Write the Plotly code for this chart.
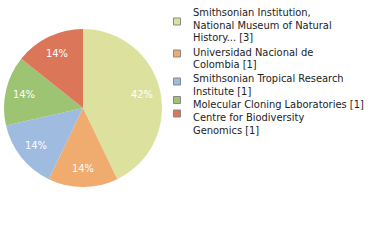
import numpy as np
import plotly.graph_objects as go

labels = [
    "Smithsonian Institution,<br>National Museum of Natural<br>History... [3]",
    "Universidad Nacional de<br>Colombia [1]",
    "Smithsonian Tropical Research<br>Institute [1]",
    "Molecular Cloning Laboratories [1]",
    "Centre for Biodiversity<br>Genomics [1]",
]
values = [3, 1, 1, 1, 1]
pct_labels = ["42%", "14%", "14%", "14%", "14%"]
colors = ["#dce29d", "#f0ab6e", "#9fbce0", "#9dc472", "#dc7659"]

W, H = 380, 240
CX, CY, R = 83, 108, 79
FONT = "DejaVu Sans Condensed"

fig = go.Figure()
fig.add_trace(go.Pie(
    labels=labels, values=values, textinfo="none",
    sort=False, direction="clockwise", rotation=0,
    marker=dict(colors=colors, line=dict(width=0)),
    domain=dict(x=[(CX - R) / W, (CX + R) / W], y=[1 - (CY + R) / H, 1 - (CY - R) / H]),
    hoverinfo="none", showlegend=False,
))

# percentage labels placed at the slice mid-angles
vals = np.array(values, dtype=float)
ends = np.cumsum(vals) / vals.sum() * 2 * np.pi
mids = ends - vals / vals.sum() * np.pi
for txt, a in zip(pct_labels, mids):
    r = 0.76 * R
    fig.add_annotation(
        x=(CX + r * np.sin(a)) / W, y=1 - (CY - r * np.cos(a)) / H,
        xref="paper", yref="paper", xanchor="center", yanchor="middle",
        showarrow=False, text=txt,
        font=dict(family=FONT, size=11, color="white"),
    )

# manual legend
line_tops = [[7, 20, 32], [47, 59.5], [73, 85.5], [99], [112, 124.5]]
marker_centers = [21.5, 53.5, 81.5, 100, 113.5]
for lab, col, tops, my in zip(labels, colors, line_tops, marker_centers):
    for line, ty in zip(lab.split("<br>"), tops):
        fig.add_annotation(
            x=191 / W, y=1 - (ty - 3) / H, xref="paper", yref="paper",
            xanchor="left", yanchor="top", align="left", showarrow=False,
            text=line, font=dict(family=FONT, size=11, color="#222"),
        )
    fig.add_shape(
        type="rect", xref="paper", yref="paper",
        x0=173.5 / W, x1=180.5 / W, y0=1 - (my - 3.5) / H, y1=1 - (my + 3.5) / H,
        fillcolor=col, line=dict(color="#888", width=1),
    )

fig.update_layout(
    width=W, height=H, margin=dict(l=0, r=0, t=0, b=0),
    paper_bgcolor="white", plot_bgcolor="white",
)
fig.write_html("out.html")
